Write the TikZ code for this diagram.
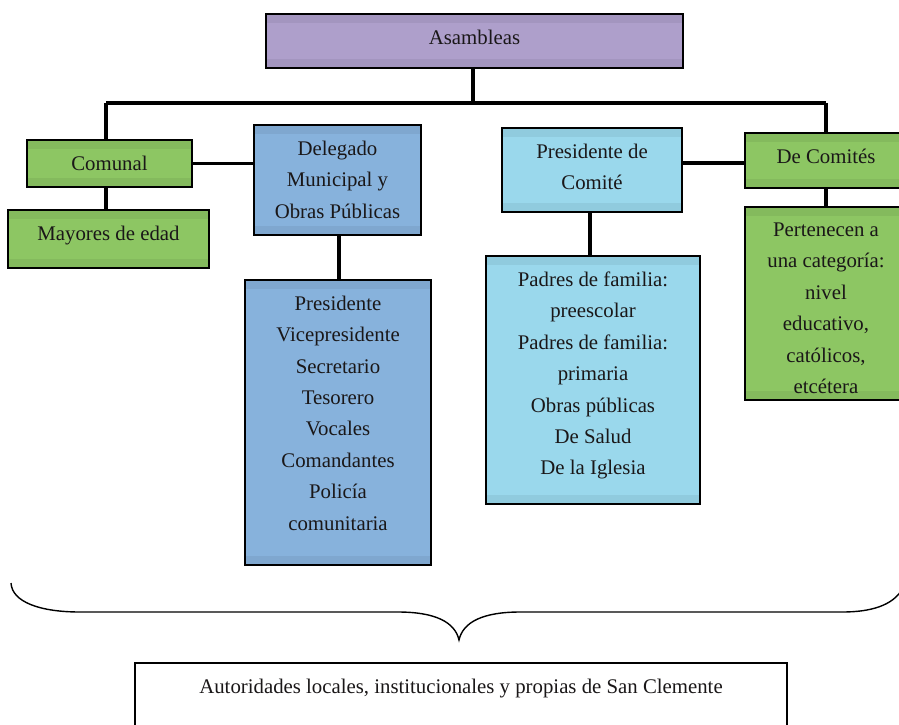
\documentclass[tikz,border=0pt]{standalone}
\usepackage{fontspec}
\setmainfont{Liberation Serif}
\definecolor{purp}{HTML}{AE9FCB}
\definecolor{grn}{HTML}{8DC663}
\definecolor{dblue}{HTML}{87B2DC}
\definecolor{lblue}{HTML}{9AD8EC}
\definecolor{txtc}{HTML}{1A1718}
\newcommand{\tb}[3]{\parbox[c][#1][t]{#2}{\centering\fontsize{20.8}{31.4}\selectfont\vspace*{15.8pt}#3\par}}
\tikzset{
  box/.style={draw=black, line width=2.6pt, inner sep=0pt, outer sep=0pt, anchor=north west, text=txtc,
    path picture={
      \fill[black, opacity=0.06] (path picture bounding box.north west) rectangle ([yshift=-9pt]path picture bounding box.north east);
      \fill[black, opacity=0.06] (path picture bounding box.south west) rectangle ([yshift=9pt]path picture bounding box.south east);
    }},
  plainbox/.style={draw=black, line width=2pt, inner sep=0pt, outer sep=0pt, anchor=north west, text=txtc, fill=white},
  conn/.style={draw=black, line width=3.8pt},
  bracel/.style={draw=black, line width=1.4pt},
}
\begin{document}
\begin{tikzpicture}[x=1pt,y=-1pt]
\useasboundingbox (0,0) rectangle (899,724);
\clip (0,0) rectangle (899,724);
\fill[white] (0,0) rectangle (899,724);
% boxes
\node[box, fill=purp] (asm) at (266,14) {\tb{54pt}{417pt}{Asambleas}};
\node[box, fill=grn] (com) at (27,140) {\tb{47pt}{165pt}{Comunal}};
\node[box, fill=grn] (may) at (8,210) {\tb{58pt}{201pt}{Mayores de edad}};
\node[box, fill=dblue] (del) at (254,125) {\tb{110pt}{167pt}{Delegado\\Municipal y\\Obras Públicas}};
\node[box, fill=dblue] (list) at (245,280) {\tb{285pt}{186pt}{Presidente\\Vicepresidente\\Secretario\\Tesorero\\Vocales\\Comandantes\\Policía\\comunitaria}};
\node[box, fill=lblue] (pc) at (502,128) {\tb{84pt}{180pt}{Presidente de\\Comité}};
\node[box, fill=lblue] (pad) at (486,256) {\tb{248pt}{214pt}{Padres de familia:\\preescolar\\Padres de familia:\\primaria\\Obras públicas\\De Salud\\De la Iglesia}};
\node[box, fill=grn] (dc) at (745,133) {\tb{55pt}{162pt}{De Comités}};
\node[box, fill=grn] (per) at (745,207) {\tb{193pt}{162pt}{Pertenecen a\\una categoría:\\nivel\\educativo,\\católicos,\\etcétera}};
\node[plainbox] (bot) at (135,663) {\tb{100pt}{652pt}{Autoridades locales, institucionales y propias de San Clemente}};
% bus
\coordinate (busL) at (106,103);
\coordinate (busM) at (473,103);
\coordinate (busR) at (826,103);
\draw[conn] (asm.south -| busM) -- (busM);
\draw[conn] (busL) -- (busR);
\draw[conn] (busL) -- (busL |- com.north);
\draw[conn] (busR) -- (busR |- dc.north);
\draw[conn] (busL |- com.south) -- (busL |- may.north);
\draw[conn] (com.east) -- (com.east -| del.west);
\coordinate (dlx) at (339,0);
\draw[conn] (dlx |- del.south) -- (dlx |- list.north);
\coordinate (pcx) at (590,0);
\draw[conn] (pcx |- pc.south) -- (pcx |- pad.north);
\coordinate (pcy) at (0,163);
\draw[conn] (pcy -| pc.east) -- (pcy -| dc.west);
\draw[conn] (busR |- dc.south) -- (busR |- per.north);
% brace
\draw[bracel] (11,583) .. controls (12,602) and (40,612) .. (80,612) -- (398,612)
  .. controls (435,612) and (455,622) .. (459,640)
  .. controls (463,622) and (483,612) .. (520,612) -- (842,612)
  .. controls (870,612) and (893,606) .. (903,588);
\end{tikzpicture}
\end{document}
